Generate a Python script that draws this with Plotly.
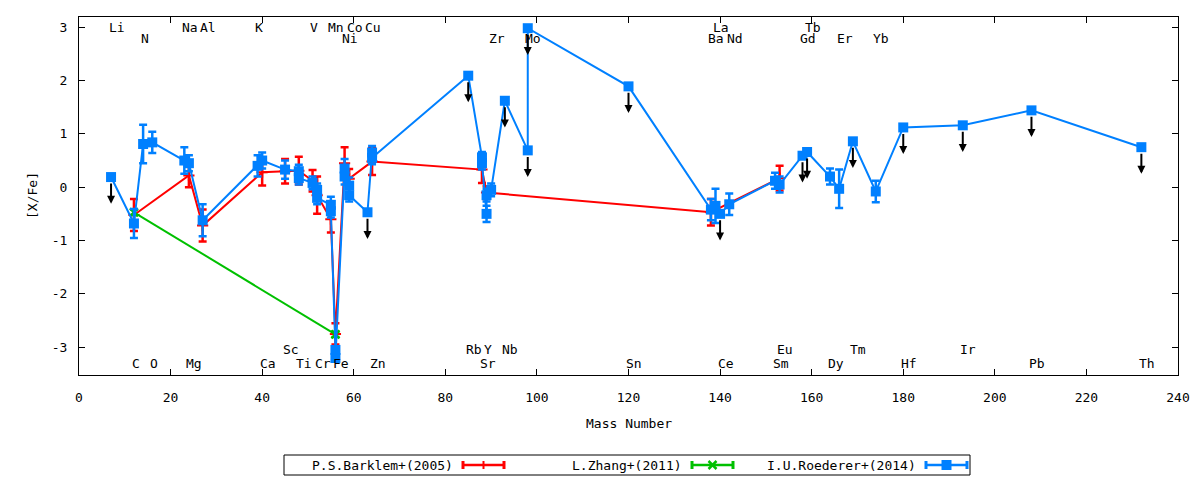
import plotly.graph_objects as go

# ---------------- data ----------------
# element labels (mass number of the label, row of the label)
label_elems = ["Li", "Na", "Al", "K", "V", "Mn", "Co", "Cu", "La", "Tb",
               "N", "Ni", "Zr", "Mo", "Ba", "Nd", "Gd", "Er", "Yb",
               "Sc", "Rb", "Y", "Nb", "Eu", "Tm", "Ir",
               "C", "O", "Mg", "Ca", "Ti", "Cr", "Fe", "Zn", "Sr", "Sn", "Ce", "Sm", "Dy", "Hf", "Pb", "Th"]
label_mass = [7, 23, 27, 39, 51, 55, 59, 63, 139, 159,
              14, 58, 90, 98, 138, 142, 158, 166, 174,
              45, 85, 89, 93, 153, 169, 193,
              12, 16, 24, 40, 48, 52, 56, 64, 88, 120, 140, 152, 164, 180, 208, 232]
label_row = ["t1"] * 10 + ["t2"] * 9 + ["b1"] * 7 + ["b2"] * 16

# P.S.Barklem+(2005)
barklem_mass = [12, 24, 27, 40, 45, 48, 51, 52, 55, 56, 58, 59, 64, 88, 89, 138, 153]
barklem_val = [-0.52, 0.22, -0.72, 0.28, 0.30, 0.31, 0.12, -0.15, -0.60, -2.75, 0.45, 0.16, 0.48, 0.33, -0.10, -0.47, 0.17]
barklem_err = [0.30, 0.22, 0.30, 0.25, 0.23, 0.26, 0.20, 0.35, 0.25, 0.20, 0.30, 0.18, 0.25, 0.25, 0.12, 0.25, 0.23]

# L.Zhang+(2011)
zhang_mass = [12, 56]
zhang_val = [-0.47, -2.76]
zhang_err = [0.05, 0.05]

# I.U.Roederer+(2014)  (ul = 1 -> upper limit)
roederer_mass = [7, 12, 14, 16, 23, 24, 27, 39, 40, 45, 48, 48, 51, 52, 52, 55, 55, 56, 56,
                 58, 58, 59, 59, 63, 64, 64, 85, 88, 88, 89, 89, 90, 93, 98, 98, 120,
                 138, 139, 140, 142, 152, 153, 158, 159, 164, 166, 169, 174, 180, 193, 208, 232]
roederer_val = [0.19, -0.68, 0.81, 0.84, 0.50, 0.45, -0.62, 0.40, 0.50, 0.33, 0.30, 0.17, 0.08, -0.05, -0.20, -0.33, -0.45, -3.05, -3.20,
                0.35, 0.20, 0.03, -0.15, -0.47, 0.65, 0.55, 2.09, 0.56, 0.45, -0.50, -0.15, -0.05, 1.62, 0.69, 2.98, 1.89,
                -0.42, -0.35, -0.50, -0.32, 0.12, 0.05, 0.59, 0.66, 0.20, -0.03, 0.86, -0.08, 1.12, 1.16, 1.44, 0.75]
roederer_err = [0, 0.27, 0.36, 0.20, 0.25, 0.15, 0.30, 0.20, 0.15, 0.17, 0.12, 0.12, 0.12, 0.12, 0.12, 0.15, 0.12, 0.07, 0.07,
                0.18, 0.15, 0.15, 0.12, 0, 0.12, 0.12, 0, 0.10, 0.12, 0.15, 0.12, 0.12, 0, 0, 0, 0,
                0.20, 0.32, 0, 0.20, 0.15, 0.15, 0, 0, 0.15, 0.36, 0, 0.20, 0, 0, 0, 0]
roederer_ul = [1, 0, 0, 0, 0, 0, 0, 0, 0, 0, 0, 0, 0, 0, 0, 0, 0, 0, 0,
               0, 0, 0, 0, 1, 0, 0, 1, 0, 0, 0, 0, 0, 1, 1, 1, 1,
               0, 0, 1, 0, 0, 0, 1, 1, 0, 0, 1, 0, 1, 1, 1, 1]

x_ticks = [0, 20, 40, 60, 80, 100, 120, 140, 160, 180, 200, 220, 240]
x_ticklabels = ["0", "20", "40", "60", "80", "100", "120", "140", "160", "180", "200", "220", "240"]
y_ticks = [-3, -2, -1, 0, 1, 2, 3]
y_ticklabels = ["-3", "-2", "-1", "0", "1", "2", "3"]

series_names = ["P.S.Barklem+(2005)", "L.Zhang+(2011)", "I.U.Roederer+(2014)"]

# ---------------- style ----------------
FONT = "DejaVu Sans Mono"
RED, GREEN, BLUE = "#ff0000", "#00c000", "#0080ff"
W, H = 1200, 480
ML, MR, MT, MB = 79, 22, 17, 105
PW, PH = W - ML - MR, H - MT - MB
row_y = {"t1": 3.0, "t2": 2.78, "b1": -3.05, "b2": -3.31}
UL_LEN = 0.5


def px2paper_x(px):
    return (px - ML) / PW


def px2paper_y(py):
    return (H - MB - py) / PH


fig = go.Figure()


def add_series(mass, val, err, color, symbol, msize, mline):
    fig.add_trace(go.Scatter(
        x=mass, y=val, mode="lines+markers",
        line=dict(color=color, width=2),
        marker=dict(symbol=symbol, size=msize, color=color,
                    line=dict(color=color, width=mline)),
        error_y=dict(type="data", array=err, visible=True,
                     color=color, thickness=2.5, width=4),
        hoverinfo="skip", showlegend=False,
    ))


add_series(barklem_mass, barklem_val, barklem_err, RED, "cross-thin", 8, 2)
add_series(zhang_mass, zhang_val, zhang_err, GREEN, "x-thin", 8, 2.5)
add_series(roederer_mass, roederer_val, roederer_err, BLUE, "square", 10, 0)

annotations = []
# upper-limit arrows
for m, v, u in zip(roederer_mass, roederer_val, roederer_ul):
    if u:
        annotations.append(dict(
            x=m, y=v - UL_LEN, ax=m, ay=v, xref="x", yref="y", axref="x", ayref="y",
            text="", showarrow=True, arrowhead=2, arrowsize=0.8, arrowwidth=2,
            arrowcolor="black", startstandoff=5))

# element labels
for el, m, r in zip(label_elems, label_mass, label_row):
    annotations.append(dict(
        x=m - 0.75, y=row_y[r], xref="x", yref="y", text=el, showarrow=False,
        xanchor="left", yanchor="middle", borderpad=0,
        font=dict(family=FONT, size=13, color="black")))

# axis titles
annotations.append(dict(x=0.5, y=px2paper_y(424), xref="paper", yref="paper",
                        text="Mass Number", showarrow=False,
                        xanchor="center", yanchor="middle",
                        font=dict(family=FONT, size=13, color="black")))
annotations.append(dict(x=px2paper_x(32), y=0.5, xref="paper", yref="paper",
                        text="[X/Fe]", showarrow=False, textangle=-90,
                        xanchor="center", yanchor="middle",
                        font=dict(family=FONT, size=13, color="black")))

# ---------------- manual gnuplot-like key ----------------
shapes = []
key_y = px2paper_y(465)
shapes.append(dict(type="rect", xref="paper", yref="paper",
                   x0=px2paper_x(284), x1=px2paper_x(970),
                   y0=px2paper_y(475), y1=px2paper_y(455),
                   line=dict(color="black", width=1), fillcolor="rgba(0,0,0,0)"))
key_text_right = [455, 684, 918]
key_colors = [RED, GREEN, BLUE]
key_marks = ["plus", "x", "square"]
for name, tr, col, mk in zip(series_names, key_text_right, key_colors, key_marks):
    annotations.append(dict(x=px2paper_x(tr), y=key_y, xref="paper", yref="paper",
                            text=name, showarrow=False, xanchor="right", yanchor="middle",
                            font=dict(family=FONT, size=13, color="black")))
    sx0, sx1 = tr + 7, tr + 50
    shapes.append(dict(type="line", xref="paper", yref="paper",
                       x0=px2paper_x(sx0), x1=px2paper_x(sx1), y0=key_y, y1=key_y,
                       line=dict(color=col, width=2.5)))
    for cx in (sx0 + 1, sx1 - 1):
        shapes.append(dict(type="line", xref="paper", yref="paper",
                           x0=px2paper_x(cx), x1=px2paper_x(cx),
                           y0=px2paper_y(469), y1=px2paper_y(461),
                           line=dict(color=col, width=3)))
    mx = (sx0 + sx1) / 2
    if mk == "plus":
        shapes.append(dict(type="line", xref="paper", yref="paper",
                           x0=px2paper_x(mx), x1=px2paper_x(mx),
                           y0=px2paper_y(469), y1=px2paper_y(461),
                           line=dict(color=col, width=2)))
    elif mk == "x":
        for a, b in ((-4, -4), (-4, 4)):
            shapes.append(dict(type="line", xref="paper", yref="paper",
                               x0=px2paper_x(mx + a), x1=px2paper_x(mx - a),
                               y0=px2paper_y(465 + b), y1=px2paper_y(465 - b),
                               line=dict(color=col, width=2.5)))
    else:
        shapes.append(dict(type="rect", xref="paper", yref="paper",
                           x0=px2paper_x(mx - 5), x1=px2paper_x(mx + 5),
                           y0=px2paper_y(470), y1=px2paper_y(460),
                           line=dict(color=col, width=0), fillcolor=col))

axis_common = dict(showgrid=False, zeroline=False, showline=True, linecolor="black",
                   linewidth=1, mirror="ticks", ticks="inside", ticklen=6,
                   tickwidth=1, tickcolor="black",
                   tickfont=dict(family=FONT, size=13, color="black"))

fig.update_layout(
    width=W, height=H,
    margin=dict(l=ML, r=MR, t=MT, b=MB, autoexpand=False),
    paper_bgcolor="white", plot_bgcolor="white",
    showlegend=False,
    xaxis=dict(range=[0, 240], tickvals=x_ticks, ticktext=x_ticklabels,
               ticklabelstandoff=10, **axis_common),
    yaxis=dict(range=[-3.52, 3.19], tickvals=y_ticks, ticktext=y_ticklabels,
               ticklabelstandoff=8, **axis_common),
    annotations=annotations,
    shapes=shapes,
    font=dict(family=FONT, size=13, color="black"),
)

fig.write_html(
    "out.html",
    config={"displayModeBar": False},
    post_script="document.body.style.margin='0px';document.body.style.overflow='hidden';",
)
